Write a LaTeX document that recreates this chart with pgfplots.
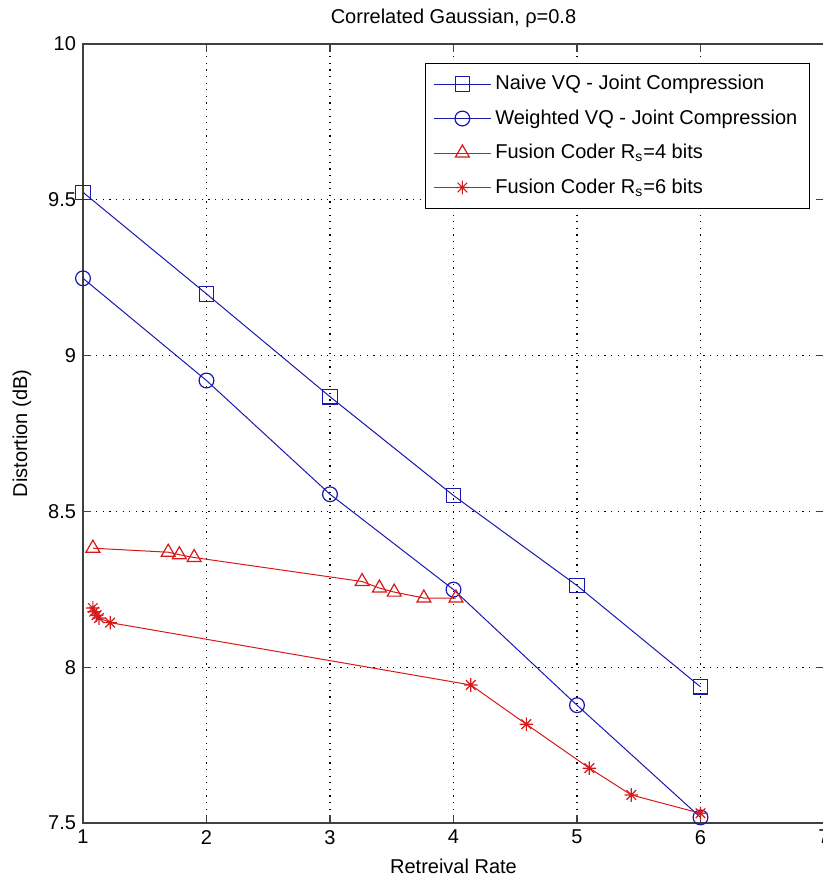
\documentclass[border=0pt]{standalone}
\usepackage{fontspec}
\setmainfont{Liberation Sans}
\usepackage{pgfplots}
\pgfplotsset{compat=1.18}

\definecolor{mblue}{RGB}{25,25,175}
\definecolor{mred}{RGB}{215,25,25}

% MATLAB-like 8-armed asterisk
\pgfdeclareplotmark{mstar}{%
  \pgfpathmoveto{\pgfpoint{-\pgfplotmarksize}{0pt}}\pgfpathlineto{\pgfpoint{\pgfplotmarksize}{0pt}}%
  \pgfpathmoveto{\pgfpoint{0pt}{-\pgfplotmarksize}}\pgfpathlineto{\pgfpoint{0pt}{\pgfplotmarksize}}%
  \pgfpathmoveto{\pgfpoint{-0.707\pgfplotmarksize}{-0.707\pgfplotmarksize}}\pgfpathlineto{\pgfpoint{0.707\pgfplotmarksize}{0.707\pgfplotmarksize}}%
  \pgfpathmoveto{\pgfpoint{-0.707\pgfplotmarksize}{0.707\pgfplotmarksize}}\pgfpathlineto{\pgfpoint{0.707\pgfplotmarksize}{-0.707\pgfplotmarksize}}%
  \pgfusepathqstroke}

\begin{document}
\begin{tikzpicture}
\path[use as bounding box] (0,0) rectangle (411.5pt,439.5pt);
\begin{axis}[
    at={(41.5pt,28pt)}, anchor=south west,
    scale only axis,
    width=370.5pt, height=389.5pt,
    xmin=1, xmax=7, ymin=7.5, ymax=10,
    xtick={1,2,3,4,5,6,7},
    ytick={7.5,8,8.5,9,9.5,10},
    yticklabels={7.5,8,8.5,9,9.5,10},
    font=\fontsize{10}{12}\selectfont,
    /pgf/number format/assume math mode=true,
    tick align=inside,
    major tick length=4pt,
    tick style={black!75, line width=0.6pt},
    axis line style={black!75, line width=0.7pt},
    grid=major,
    major grid style={black, line width=0.6pt, dash pattern=on 0.6pt off 2.7pt},
    title={Correlated Gaussian, ρ=0.8},
    title style={at={(axis description cs:0.5,1)}, anchor=base, yshift=4pt},
    xlabel={Retreival Rate},
    xlabel style={at={(axis description cs:0.5,-0.0558)}, anchor=center},
    ylabel={Distortion (dB)},
    ylabel style={at={(axis description cs:-0.0823,0.5)}, anchor=center},
    legend style={at={(axis description cs:0.981,0.976)}, anchor=north east,
        draw=black, line width=0.6pt, fill=white,
        font=\fontsize{10}{12}\selectfont, cells={anchor=west},
        inner xsep=4pt, inner ysep=4pt, row sep=4.5pt},
    legend image code/.code={%
        \draw[mark repeat=2,mark phase=2] plot coordinates {(0cm,0cm) (0.5cm,0cm) (1cm,0cm)};},
]

\addplot[mblue, line width=0.5pt, mark=square, mark size=3.6pt, mark options={solid, line width=0.6pt}] coordinates {
    (1,9.524) (2,9.198) (3,8.868) (4,8.551) (5,8.262) (6,7.937)
};
\addlegendentry{Naive VQ - Joint Compression}

\addplot[mblue, line width=0.5pt, mark=o, mark size=3.7pt, mark options={solid, line width=0.6pt}] coordinates {
    (1,9.248) (2,8.920) (3,8.555) (4,8.249) (5,7.878) (6,7.518)
};
\addlegendentry{Weighted VQ - Joint Compression}

\addplot[mred, line width=0.5pt, mark=triangle, mark size=4pt, mark options={solid, line width=0.6pt}] coordinates {
    (1.08,8.382) (1.69,8.369) (1.78,8.361) (1.90,8.352)
    (3.26,8.275) (3.40,8.254) (3.52,8.241) (3.76,8.222) (4.02,8.222)
};
\addlegendentry{Fusion Coder R\textsubscript{s}=4 bits}

\addplot[mred, line width=0.5pt, mark=mstar, mark size=3.4pt, mark options={solid, line width=0.6pt}] coordinates {
    (1.08,8.19) (1.09,8.178) (1.11,8.167) (1.13,8.158) (1.22,8.143)
    (4.14,7.943) (4.59,7.817) (5.10,7.676) (5.44,7.590) (6.00,7.531)
};
\addlegendentry{Fusion Coder R\textsubscript{s}=6 bits}

\end{axis}
\end{tikzpicture}
\end{document}
